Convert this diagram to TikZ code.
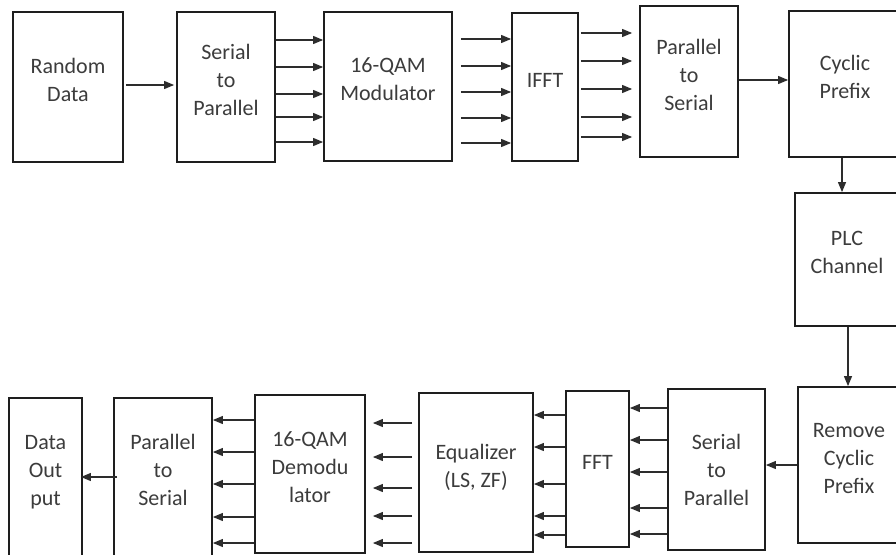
\documentclass[tikz,border=0pt]{standalone}
\usepackage{fontspec}
\setmainfont{Carlito}
\usetikzlibrary{arrows.meta,positioning}
\definecolor{ink}{RGB}{30,30,30}
\definecolor{txt}{RGB}{60,60,60}
\definecolor{wire}{RGB}{45,45,45}
\tikzset{
  blk/.style={draw=ink,line width=1.8pt,fill=white,align=center,text=txt,inner sep=0pt,
    font=\fontsize{22}{28}\selectfont,text depth=14pt},
  arr/.style={-{Triangle[length=10pt,width=8pt]},draw=wire,line width=1.1pt},
}
\begin{document}
\begin{tikzpicture}[x=1pt,y=-1pt]
  \clip (0,0) rectangle (896,554);
  % transmitter
  \node[blk,minimum width=110pt,minimum height=150pt] (rd) at (68,87) {Random\\Data};
  \node[blk,minimum width=98pt,minimum height=150pt] (s2p) at (226,87) {Serial\\to\\Parallel};
  \node[blk,minimum width=128pt,minimum height=149pt] (mod) at (388,86.5) {16-QAM\\Modulator};
  \node[blk,minimum width=66pt,minimum height=148pt] (ifft) at (545,87) {IFFT};
  \node[blk,minimum width=98pt,minimum height=151pt] (p2s) at (689,81.5) {Parallel\\to\\Serial};
  \node[blk,minimum width=112pt,minimum height=146pt] (cp) at (845,84) {Cyclic\\Prefix};
  % channel
  \node[blk,minimum width=104pt,minimum height=133pt] (plc) at (847,259.5) {PLC\\Channel};
  % receiver
  \node[blk,minimum width=102pt,minimum height=156pt] (rcp) at (849,465) {Remove\\Cyclic\\Prefix};
  \node[blk,minimum width=97pt,minimum height=161pt,text depth=0pt] (bs2p) at (716.5,469.5) {Serial\\to\\Parallel};
  \node[blk,minimum width=63pt,minimum height=156pt] (fft) at (597.5,469) {FFT};
  \node[blk,minimum width=114pt,minimum height=159pt] (eq) at (476,472.5) {Equalizer\\(LS, ZF)};
  \node[blk,minimum width=110pt,minimum height=158pt] (demod) at (310,474) {16-QAM\\Demodu\\lator};
  \node[blk,minimum width=98pt,minimum height=158pt] (bp2s) at (163,477) {Parallel\\to\\Serial};
  \node[blk,minimum width=73pt,minimum height=158pt] (dout) at (45.5,477) {Data\\Out\\put};

  \draw[arr,shorten <=2pt,shorten >=2pt] (rd.east |- 0,85) -- (s2p.west |- 0,85);
  \draw[arr] (s2p.east |- 0,40) -- (mod.west |- 0,40); \draw[arr] (s2p.east |- 0,67) -- (mod.west |- 0,67);
  \draw[arr] (s2p.east |- 0,94) -- (mod.west |- 0,94); \draw[arr] (s2p.east |- 0,117) -- (mod.west |- 0,117);
  \draw[arr] (s2p.east |- 0,142) -- (mod.west |- 0,142);
  \draw[arr,shorten <=8pt] (mod.east |- 0,39) -- (ifft.west |- 0,39); \draw[arr,shorten <=8pt] (mod.east |- 0,66) -- (ifft.west |- 0,66);
  \draw[arr,shorten <=8pt] (mod.east |- 0,92) -- (ifft.west |- 0,92); \draw[arr,shorten <=8pt] (mod.east |- 0,118) -- (ifft.west |- 0,118);
  \draw[arr,shorten <=8pt] (mod.east |- 0,143) -- (ifft.west |- 0,143);
  \draw[arr,shorten <=2pt,shorten >=7pt] (ifft.east |- 0,33) -- (p2s.west |- 0,33); \draw[arr,shorten <=2pt,shorten >=7pt] (ifft.east |- 0,61) -- (p2s.west |- 0,61);
  \draw[arr,shorten <=2pt,shorten >=7pt] (ifft.east |- 0,89) -- (p2s.west |- 0,89); \draw[arr,shorten <=2pt,shorten >=7pt] (ifft.east |- 0,117) -- (p2s.west |- 0,117);
  \draw[arr,shorten <=2pt,shorten >=7pt] (ifft.east |- 0,137) -- (p2s.west |- 0,137);
  \draw[arr] (p2s.east |- 0,80) -- (cp.west |- 0,80);
  \draw[arr] (cp.south -| 842,0) -- (plc.north -| 842,0);
  \draw[arr] (plc.south -| 848,0) -- (rcp.north -| 848,0);
  \draw[arr] (rcp.west) -- (bs2p.east |- rcp.west);
  \draw[arr] (bs2p.west |- 0,408) -- (fft.east |- 0,408); \draw[arr] (bs2p.west |- 0,440) -- (fft.east |- 0,440);
  \draw[arr] (bs2p.west |- 0,472) -- (fft.east |- 0,472); \draw[arr] (bs2p.west |- 0,508) -- (fft.east |- 0,508);
  \draw[arr] (bs2p.west |- 0,534) -- (fft.east |- 0,534);
  \draw[arr] (fft.west |- 0,415) -- (eq.east |- 0,415); \draw[arr] (fft.west |- 0,447) -- (eq.east |- 0,447);
  \draw[arr] (fft.west |- 0,484) -- (eq.east |- 0,484); \draw[arr] (fft.west |- 0,516) -- (eq.east |- 0,516);
  \draw[arr] (fft.west |- 0,535) -- (eq.east |- 0,535);
  \draw[arr,shorten <=6pt,shorten >=7pt] (eq.west |- 0,423) -- (demod.east |- 0,423); \draw[arr,shorten <=6pt,shorten >=7pt] (eq.west |- 0,457) -- (demod.east |- 0,457);
  \draw[arr,shorten <=6pt,shorten >=7pt] (eq.west |- 0,488) -- (demod.east |- 0,488); \draw[arr,shorten <=6pt,shorten >=7pt] (eq.west |- 0,516) -- (demod.east |- 0,516);
  \draw[arr,shorten <=6pt,shorten >=7pt] (eq.west |- 0,543) -- (demod.east |- 0,543);
  \draw[arr] (demod.west |- 0,420) -- (bp2s.east |- 0,420); \draw[arr] (demod.west |- 0,452) -- (bp2s.east |- 0,452);
  \draw[arr] (demod.west |- 0,484) -- (bp2s.east |- 0,484); \draw[arr] (demod.west |- 0,517) -- (bp2s.east |- 0,517);
  \draw[arr] (demod.west |- 0,543) -- (bp2s.east |- 0,543);
  \draw[arr,shorten <=-4pt,shorten >=-2pt] (bp2s.west) -- (dout.east);
\end{tikzpicture}
\end{document}
